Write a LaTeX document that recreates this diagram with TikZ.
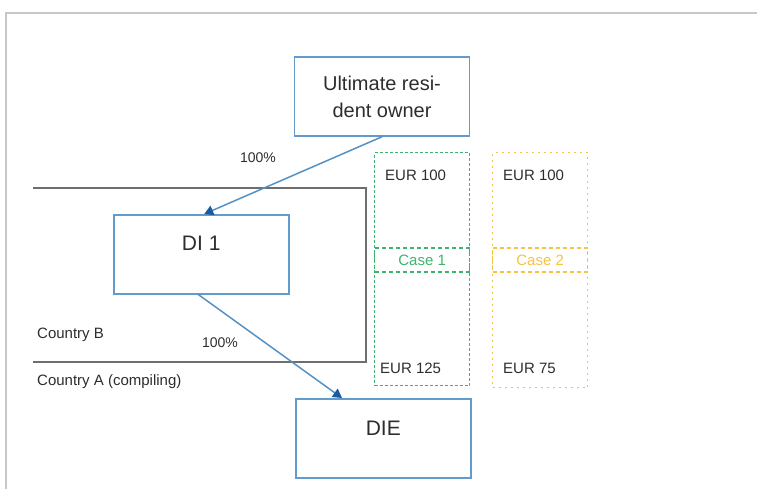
\documentclass[tikz,border=0pt]{standalone}
\usepackage{fontspec}
\setmainfont{Liberation Sans}
\usetikzlibrary{arrows.meta}
\definecolor{boxblue}{RGB}{100,155,205}
\definecolor{arrowblue}{RGB}{85,145,195}
\definecolor{tipblue}{RGB}{25,90,160}
\definecolor{casegreen}{RGB}{60,180,110}
\definecolor{caseyellow}{RGB}{245,195,70}
\definecolor{textgray}{RGB}{45,45,45}
\definecolor{framegray}{RGB}{200,200,200}
\definecolor{linegray}{RGB}{110,110,110}

\begin{document}
\begin{tikzpicture}[x=1pt,y=-1pt,
    entity/.style={draw=boxblue, line width=1.5pt, rectangle, inner sep=0pt,
      minimum width=175pt, text=textgray, font=\fontsize{21}{25}\selectfont},
    owns/.style={draw=arrowblue, line width=1.5pt,
      -{Triangle[length=9pt,width=10pt,color=tipblue]}},
    small/.style={text=textgray, font=\fontsize{15}{18}\selectfont, inner sep=0pt},
    casebox/.style={line width=1.2pt, inner sep=0pt, minimum width=95pt}]
      \useasboundingbox (0,0) rectangle (757,489);

      % Draw the page frame
      \draw[framegray, line width=2pt] (6,489) -- (6,13) -- (757,13);

      % Draw the border between the two countries
      \draw[linegray, line width=1.8pt] (33,188) -- (366,188) -- (366,362) -- (33,362);
      \node[small, anchor=base west] (cntB) at (37,338) {Country B};
      \node[small, anchor=base west] (cntA) at (37,385) {Country A (compiling)};

      % Draw the entities
      \node[entity, align=center, font=\fontsize{20}{27}\selectfont, minimum height=79pt]
        (owner) at (382,96.5) {Ultimate resi-\\dent owner};
      \node[entity, anchor=north west, text height=36pt, text depth=43pt] (di) at (113,214) {DI 1};
      \node[entity, anchor=north west, text height=37pt, text depth=42pt] (die) at (295,398) {DIE};

      % Draw the ownership links
      \draw[owns] (owner.south) -- ([xshift=3pt]di.north);
      \node[small, font=\fontsize{14}{17}\selectfont] (shareA) at (258,158) {100\%};
      \draw[owns] ([xshift=-3pt]di.south) -- ([xshift=47pt]die.north west);
      \node[small, font=\fontsize{14}{17}\selectfont] (shareB) at (220,343) {100\%};

      % Draw case 1
      \node[casebox, draw=casegreen, dash pattern=on 3pt off 2pt, anchor=north west,
        minimum height=233pt] (caseA) at (374,152) {};
      \node[casebox, draw=casegreen, dash pattern=on 4pt off 3pt, minimum height=24pt,
        text=casegreen, font=\fontsize{15}{18}\selectfont] (caseAlab) at (caseA |- 0,260) {Case 1};
      \node[small, anchor=base west] (caseAtop) at (385,181) {EUR 100};
      \node[small, anchor=base west] (caseAbot) at (380,373) {EUR 125};

      % Draw case 2
      \node[casebox, draw=caseyellow, dash pattern=on 2pt off 4pt, anchor=north west,
        minimum height=235pt] (caseB) at (492,152) {};
      \node[casebox, draw=caseyellow, dash pattern=on 4pt off 3pt, minimum height=24pt,
        text=caseyellow, font=\fontsize{15}{18}\selectfont] (caseBlab) at (caseB |- 0,260) {Case 2};
      \node[small, anchor=base west] (caseBtop) at (503,181) {EUR 100};
      \node[small, anchor=base west] (caseBbot) at (503,373) {EUR 75};

\end{tikzpicture}
\end{document}
